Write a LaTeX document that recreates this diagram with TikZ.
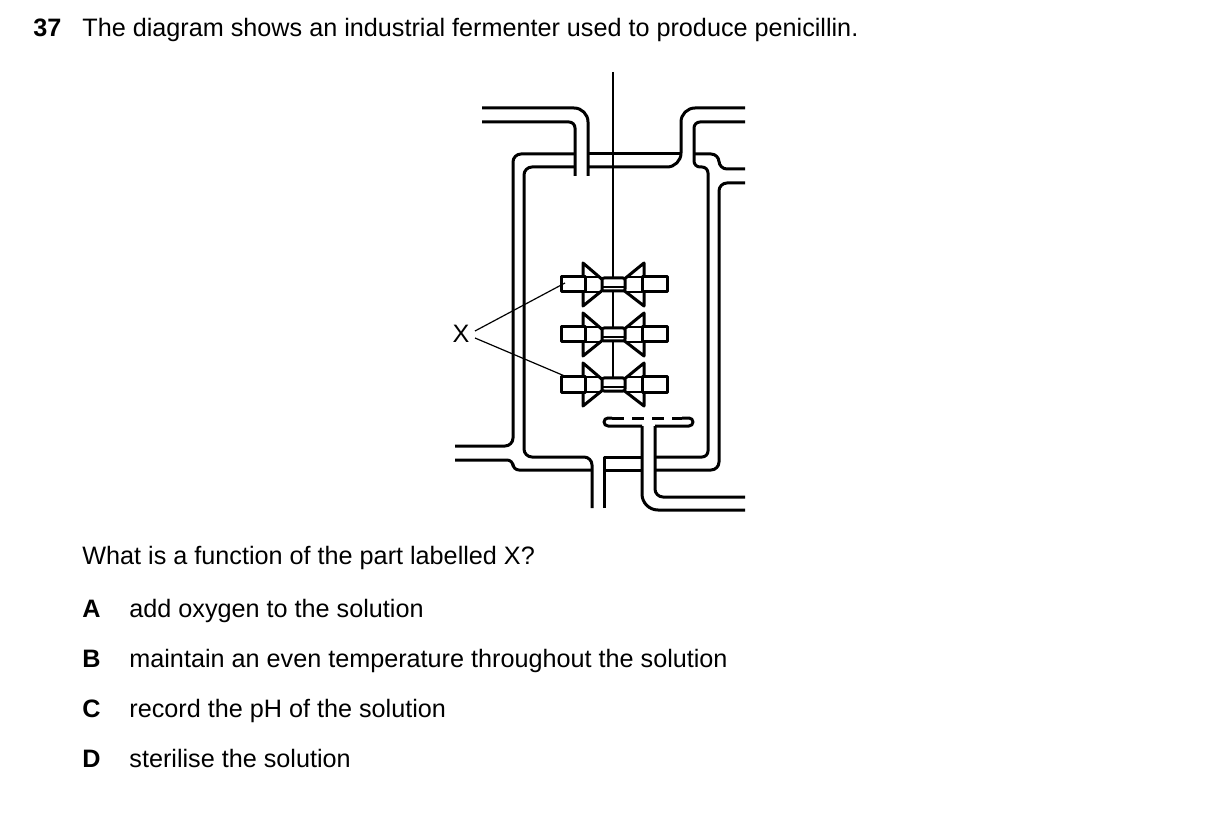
\documentclass[tikz,border=0pt]{standalone}
\usepackage{fontspec}
\setmainfont{Liberation Sans}
\begin{document}
\begin{tikzpicture}[x=0.5pt,y=-0.5pt,
  wall/.style={line width=1.5pt,line join=round},
  thin/.style={line width=0.6pt},
  txt/.style={anchor=base west,inner sep=0pt,font=\fontsize{12.6pt}{15pt}\selectfont},
  bold/.style={txt,font=\fontsize{12.6pt}{15pt}\selectfont\bfseries}]
\useasboundingbox (0,0) rectangle (1209,823);
\node[bold] (num) at (33,37) {37};
\node[txt] (t1) at (82,37) {The diagram shows an industrial fermenter used to produce penicillin.};
\node[txt] (q) at (82,564) {What is a function of the part labelled X?};
\foreach \l/\t/\y [count=\i] in {A/add oxygen to the solution/617,B/maintain an even temperature throughout the solution/667,C/record the pH of the solution/717,D/sterilise the solution/767}{
  \node[bold] (L\i) at (82,\y) {\l};
  \node[txt] (T\i) at (129,\y) {\t};
}
% pipes and jacket
\draw[wall,rounded corners=7pt] (482,108) -- (588,108) -- (588,176);
\draw[wall,rounded corners=3pt] (482,122) -- (575,122) -- (575,176);
\draw[wall,rounded corners=7pt] (745,108) -- (681,108) -- (681,167) -- (588,167);
\draw[wall] (681,154) -- (588,154);
\draw[wall,rounded corners=4pt] (694,154) -- (719,154) -- (719,169) -- (745,169);
\draw[wall,rounded corners=3pt] (745,122) -- (694,122) -- (694,167) -- (708,167) -- (708,457) -- (655,457);
\draw[wall,rounded corners=4pt] (575,154) -- (513,154) -- (513,446) -- (455,446);
\draw[wall,rounded corners=4pt] (575,167) -- (524,167) -- (524,457) -- (592,457) -- (592,508);
\draw[wall,rounded corners=3pt] (455,460) -- (513,460) -- (513,470) -- (592,470);
\draw[wall] (604,508) -- (604,457) -- (642,457);
\draw[wall] (604,470) -- (642,470);
\draw[wall,rounded corners=4pt] (745,183) -- (719,183) -- (719,470) -- (655,470);
% sparger
\draw[wall,rounded corners=8pt] (642,426) -- (642,510) -- (745,510);
\draw[wall,rounded corners=4pt] (655,426) -- (655,497) -- (745,497);
\draw[wall,rounded corners=2pt] (612,418) -- (604,418) -- (604,426) -- (642,426);
\draw[wall,rounded corners=2pt] (682,418) -- (693,418) -- (693,426) -- (655,426);
\draw[wall,dash pattern=on 6pt off 4pt] (612,418) -- (682,418);
% shaft
\draw[line width=1pt] (613,72) -- (613,392);
% impellers
\foreach \y [count=\k] in {285,335,385}{
  \draw[wall,fill=white] (583,\y-22) -- (604,\y-4) -- (604,\y+4) -- (583,\y+21) -- cycle;
  \draw[wall,fill=white] (644,\y-22) -- (622,\y-4) -- (622,\y+4) -- (644,\y+21) -- cycle;
  \draw[wall,fill=white] (561,\y-8) -- (585,\y-8) -- (585,\y+7) -- (561,\y+7) -- cycle;
  \draw[wall,fill=white] (642,\y-8) -- (667,\y-8) -- (667,\y+7) -- (642,\y+7) -- cycle;
  \draw[thin] (585,\y-8) -- (600,\y-8) (585,\y+7) -- (600,\y+7) (626,\y-8) -- (642,\y-8) (626,\y+7) -- (642,\y+7);
  \draw[wall,fill=white,rounded corners=1pt] (602,\y-7) rectangle (625,\y+6);
  \draw[thin] (602,\y+2) -- (625,\y+2);
}
\node[inner sep=0pt,font=\fontsize{12.6pt}{15pt}\selectfont] (X) at (461,334) {X};
\coordinate (p1) at (565,283);
\coordinate (p3) at (567,377);
\draw[thin] (475,331) -- (p1);
\draw[thin] (475,338) -- (p3);
\end{tikzpicture}
\end{document}
